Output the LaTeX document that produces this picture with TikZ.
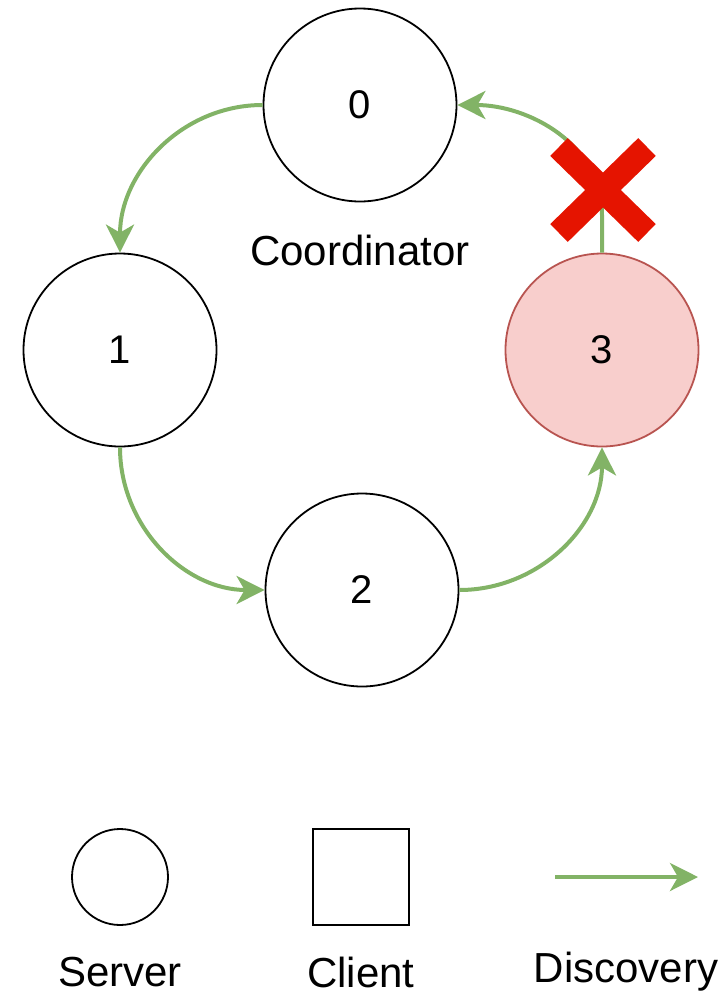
\documentclass[tikz,border=0pt]{standalone}
\usepackage{fontspec}
\setmainfont{Liberation Sans}
\usetikzlibrary{arrows.meta}
\definecolor{flowgreen}{HTML}{82B366}
\definecolor{failfill}{HTML}{F8CECC}
\definecolor{failline}{HTML}{B85450}
\definecolor{crossred}{HTML}{E51400}
\tikzset{
  flowtip/.tip={Stealth[length=28pt,width=28pt,inset=8pt]}
}
\begin{document}
\begin{tikzpicture}[x=1pt,y=-1pt,
  server/.style={circle,draw=black,line width=1.8pt,minimum size=193pt,inner sep=0pt,
                 font=\fontsize{40}{48}\selectfont},
  failed/.style={server,draw=failline,fill=failfill},
  flow/.style={draw=flowgreen,line width=4pt,-flowtip},
  caption/.style={font=\fontsize{42}{50}\selectfont,inner sep=0pt},
  crossbar/.style={draw=crossred,line width=25pt,line cap=butt}]
\useasboundingbox (0,0) rectangle (726,997);

% ring of servers
\node[server] (s0) at (360,105) {0};
\node[server] (s1) at (120,350) {1};
\node[server] (s2) at (362,590) {2};
\node[failed] (s3) at (602,350) {3};
\node[caption] (coord) at (360,250) {Coordinator};

% discovery links
\draw[flow] (s0.west) to[out=180,in=90] (s1.north);
\draw[flow] (s1.south) to[out=-90,in=180] (s2.west);
\draw[flow] (s2.east) to[out=0,in=-90] (s3.south);
\coordinate (bend) at (602,215);
\draw[flow] (s3.north) -- (bend) to[out=90,in=0] (s0.east);

% broken link marker
\coordinate (xa) at (559,147);
\coordinate (xb) at (647,233);
\coordinate (xc) at (647,147);
\coordinate (xd) at (559,233);
\draw[crossbar] (xa) -- (xb);
\draw[crossbar] (xc) -- (xd);

% legend
\node[circle,draw=black,line width=1.8pt,minimum size=96pt,inner sep=0pt] (lserver) at (120,877) {};
\node[draw=black,line width=1.8pt,minimum size=96pt,inner sep=0pt] (lclient) at (361,877) {};
\coordinate (la) at (555,877);
\coordinate (lb) at (698,877);
\draw[flow] (la) -- (lb);
\node[caption] (tserver) at (120,972) {Server};
\node[caption] (tclient) at (361,972) {Client};
\node[caption] (tdisc) at (626,972) {Discovery};
\end{tikzpicture}
\end{document}
